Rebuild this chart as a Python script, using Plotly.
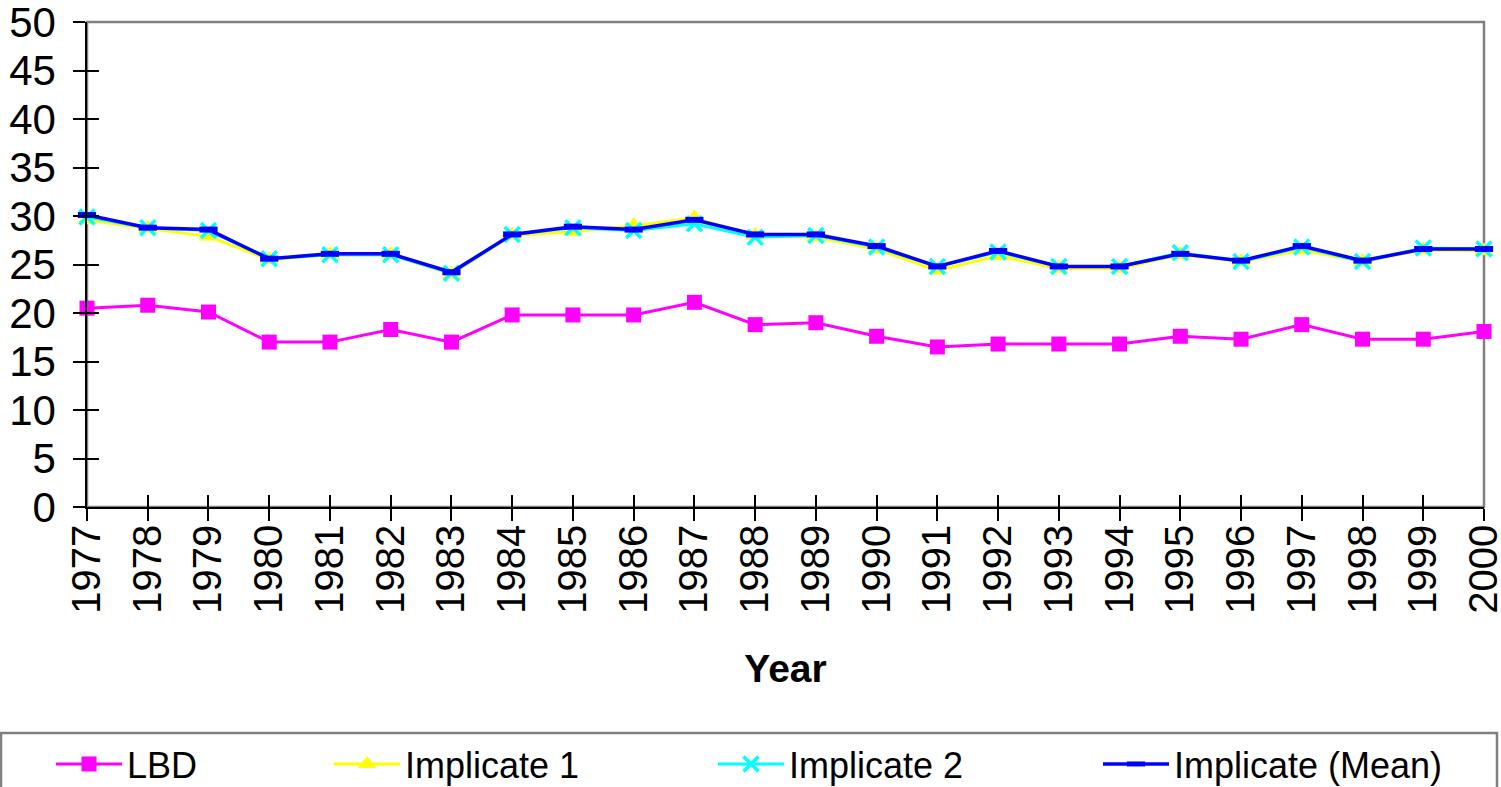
import plotly.graph_objects as go

years = list(range(1977, 2001))
lbd = [20.5, 20.8, 20.1, 17.0, 17.0, 18.3, 17.0, 19.8, 19.8, 19.8, 21.1, 18.8,
       19.0, 17.6, 16.5, 16.8, 16.8, 16.8, 17.6, 17.3, 18.8, 17.3, 17.3, 18.1]
imp1 = [29.6, 28.7, 27.9, 25.5, 26.0, 26.0, 24.0, 28.0, 28.4, 29.0, 29.8, 28.0,
        27.8, 26.6, 24.4, 25.9, 24.6, 24.6, 26.0, 25.3, 26.5, 25.3, 26.5, 26.4]
imp2 = [29.9, 28.8, 28.5, 25.6, 26.0, 26.0, 24.1, 28.1, 28.8, 28.5, 29.2, 27.8,
        28.0, 26.8, 24.8, 26.3, 24.8, 24.8, 26.2, 25.3, 26.8, 25.3, 26.7, 26.6]
mean = [30.1, 28.8, 28.6, 25.6, 26.1, 26.1, 24.2, 28.1, 28.9, 28.6, 29.6, 28.1,
        28.1, 26.9, 24.8, 26.4, 24.8, 24.8, 26.1, 25.4, 26.9, 25.4, 26.6, 26.6]
yticks = list(range(0, 51, 5))

FONT = "Arial, 'Liberation Sans', sans-serif"

fig = go.Figure()
fig.add_trace(go.Scatter(x=years, y=lbd, name="LBD", mode="lines+markers",
                         line=dict(color="#FF00FF", width=3),
                         marker=dict(symbol="square", size=15, color="#FF00FF"),
                         cliponaxis=False, legend="legend"))
fig.add_trace(go.Scatter(x=years, y=imp1, name="Implicate 1", mode="lines+markers",
                         line=dict(color="#FFFF00", width=3),
                         marker=dict(symbol="triangle-up", size=17, color="#FFFF00"),
                         cliponaxis=False, legend="legend2"))
fig.add_trace(go.Scatter(x=years, y=imp2, name="Implicate 2", mode="lines+markers",
                         line=dict(color="#00FFFF", width=3),
                         marker=dict(symbol="x-thin", size=15, color="#00FFFF",
                                     line=dict(color="#00FFFF", width=3.5)),
                         cliponaxis=False, legend="legend3"))
fig.add_trace(go.Scatter(x=years, y=mean, name="Implicate (Mean)", mode="lines+markers",
                         line=dict(color="#0000FF", width=3.5),
                         marker=dict(symbol="line-ew", size=13, color="#0000FF",
                                     line=dict(color="#0000FF", width=6)),
                         cliponaxis=False, legend="legend4"))

axis_common = dict(showgrid=False, zeroline=False, automargin=False)
fig.update_layout(
    width=1501, height=787,
    margin=dict(l=87, r=17, t=22, b=280, autoexpand=False),
    paper_bgcolor="white", plot_bgcolor="white",
    font=dict(family=FONT, color="black"),
    xaxis=dict(range=[1977, 2000], tickvals=years, ticktext=[str(y) for y in years],
               tickangle=-90, ticks="outside", ticklen=12, tickwidth=1.5, tickcolor="black",
               showline=True, linecolor="black", linewidth=1.5, ticklabeloverflow="allow",
               ticklabelstandoff=-12,
               tickfont=dict(size=40, family=FONT),
               title=dict(text="<b>Year</b>", font=dict(size=39, family=FONT), standoff=42),
               **axis_common),
    yaxis=dict(range=[0, 50], tickvals=yticks, ticks="outside", ticklen=12, tickwidth=1.5,
               tickcolor="black", showline=True, linecolor="black", linewidth=1.5,
               ticklabeloverflow="allow", ticklabelstandoff=9,
               tickfont=dict(size=42, family=FONT), **axis_common),
    xaxis2=dict(range=[1977, 2000], tickvals=years, overlaying="x", anchor="y2",
                ticks="inside", ticklen=12, tickwidth=1.5, tickcolor="black",
                showticklabels=False, showline=False, **axis_common),
    yaxis2=dict(range=[0, 50], tickvals=yticks, overlaying="y", anchor="x2",
                ticks="inside", ticklen=12, tickwidth=1.5, tickcolor="black",
                showticklabels=False, showline=False, **axis_common),
    showlegend=True,
)

leg_common = dict(orientation="h", yanchor="middle", y=-0.53, xanchor="left",
                  bgcolor="rgba(0,0,0,0)", itemwidth=66,
                  font=dict(size=36, family=FONT, color="black"))
px2x = lambda p: (p - 87) / 1397
fig.update_layout(
    legend=dict(x=px2x(51), **leg_common),
    legend2=dict(x=px2x(329), **leg_common),
    legend3=dict(x=px2x(713), **leg_common),
    legend4=dict(x=px2x(1098), **leg_common),
)

# empty trace to ensure overlay axes are drawn
fig.add_trace(go.Scatter(x=[None], y=[None], xaxis="x2", yaxis="y2", showlegend=False,
                         hoverinfo="skip"))

# plot frame (gray) and legend box
fig.add_shape(type="rect", xref="paper", yref="paper", x0=0, x1=1, y0=0, y1=1,
              line=dict(color="#808080", width=2.5), layer="below")
fig.add_shape(type="rect", xref="paper", yref="paper",
              x0=px2x(1), x1=px2x(1497), y0=(507 - 733) / 485, y1=(507 - 800) / 485,
              line=dict(color="#808080", width=2.5), layer="below")

fig.write_html("out.html", config={"displayModeBar": False},
               post_script="document.body.style.margin='0';document.body.style.overflow='hidden';")
